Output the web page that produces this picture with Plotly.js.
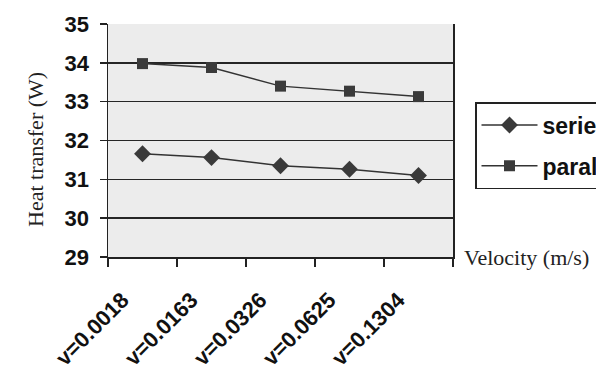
<!DOCTYPE html>
<html>
<head>
<meta charset="utf-8">
<script src="https://cdn.plot.ly/plotly-3.0.1.min.js"></script>
<style>html,body{margin:0;padding:0;background:#fff;}#chart{width:596px;height:371px;}</style>
</head>
<body>
<div id="chart"></div>
<script>
var categories = ["v=0.0018", "v=0.0163", "v=0.0326", "v=0.0625", "v=0.1304"];
var seriesValues = [31.66, 31.56, 31.35, 31.26, 31.10];
var parallelValues = [33.98, 33.88, 33.40, 33.27, 33.13];
var yTicks = [29, 30, 31, 32, 33, 34, 35];

var traces = [
  {
    x: categories, y: seriesValues, name: "series", type: "scatter", mode: "lines+markers",
    legendgroup: "a",
    line: {color: "#333333", width: 1.5},
    marker: {symbol: "diamond", size: 13, color: "#3a3a3a"}
  },
  {
    x: categories, y: parallelValues, name: "parallel", type: "scatter", mode: "lines+markers",
    legendgroup: "b",
    line: {color: "#333333", width: 1.5},
    marker: {symbol: "square", size: 11, color: "#3a3a3a"}
  }
];

var layout = {
  width: 596, height: 371,
  margin: {l: 108, r: 143, t: 24, b: 114},
  paper_bgcolor: "#ffffff",
  plot_bgcolor: "#ececec",
  showlegend: true,
  legend: {
    xref: "container", yref: "container",
    x: 475/596, y: 1 - 102/371, xanchor: "left", yanchor: "top",
    bgcolor: "#ffffff", bordercolor: "#222222", borderwidth: 1.5,
    font: {family: "Liberation Sans, Arial", size: 23, color: "#111111", weight: "bold"},
    tracegroupgap: 8, itemwidth: 56
  },
  xaxis: {
    type: "category",
    tickson: "boundaries",
    range: [-0.5, 4.5],
    showline: true, linecolor: "#222222", linewidth: 1.5, mirror: false,
    ticks: "outside", ticklen: 8, tickwidth: 1.5, tickcolor: "#222222",
    showgrid: false, zeroline: false,
    tickangle: -45,
    ticklabelshift: -20,
    ticklabelstandoff: 20,
    tickfont: {family: "Liberation Sans, Arial", size: 22, color: "#111111", weight: "bold"}
  },
  yaxis: {
    range: [29, 35],
    tickvals: yTicks,
    showline: true, linecolor: "#222222", linewidth: 1.5, mirror: true,
    ticks: "outside", ticklen: 7, tickwidth: 1.5, tickcolor: "#222222",
    showgrid: true, gridcolor: "#262626", gridwidth: 1.6,
    zeroline: false,
    ticklabelstandoff: 6,
    tickfont: {family: "Liberation Sans, Arial", size: 22, color: "#111111", weight: "bold"}
  },
  annotations: [
    {xref: "paper", yref: "paper", x: 1, y: 0, xanchor: "left", yanchor: "middle",
     xshift: 9, showarrow: false, text: "Velocity (m/s)",
     font: {family: "Liberation Serif, Times New Roman", size: 22, color: "#222222"}},
    {xref: "paper", yref: "paper", x: 0, y: (257 - 150) / 233, xanchor: "center", yanchor: "middle",
     xshift: -73, showarrow: false, textangle: -90, text: "Heat transfer (W)",
     font: {family: "Liberation Serif, Times New Roman", size: 22, color: "#222222"}}
  ]
};

Plotly.newPlot("chart", traces, layout, {staticPlot: true, displayModeBar: false});
</script>
</body>
</html>
